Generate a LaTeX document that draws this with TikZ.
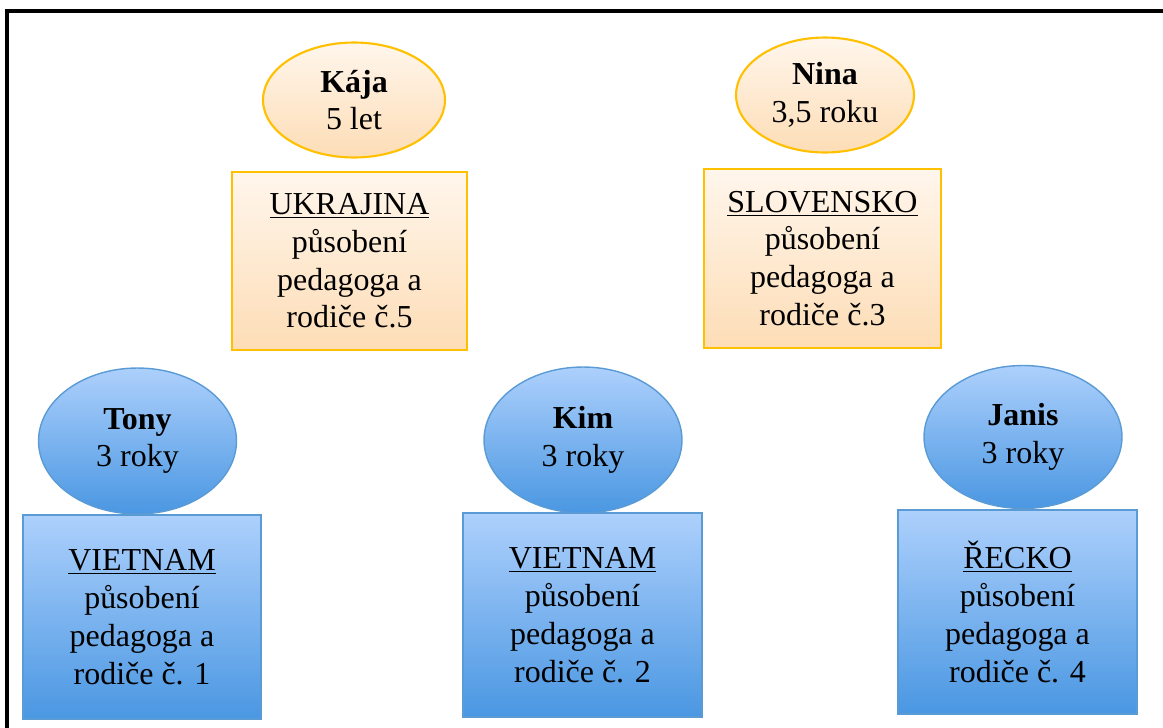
\documentclass[tikz,border=0pt]{standalone}
\usepackage{fontspec}
\setmainfont{Liberation Serif}
\usetikzlibrary{shapes.geometric}
\definecolor{zlutaokraj}{HTML}{FFC000}
\definecolor{zlutahore}{HTML}{FFF6EC}
\definecolor{zlutadole}{HTML}{FDDDB6}
\definecolor{modraokraj}{HTML}{5B9BD5}
\definecolor{modrahore}{HTML}{ADD0FC}
\definecolor{modradole}{HTML}{4A97E2}
\tikzset{
  dite/.style={ellipse, inner sep=0pt, outer sep=0pt, align=center,
    font=\fontsize{18.2}{21.5}\selectfont},
  zeme/.style={rectangle, inner sep=0pt, outer sep=0pt, align=center,
    font=\fontsize{18.2}{21.5}\selectfont},
  zluta/.style={draw=zlutaokraj, line width=1.2pt, top color=zlutahore, bottom color=zlutadole},
  modra/.style={draw=modraokraj, line width=0.8pt, top color=modrahore, bottom color=modradole}
}
\begin{document}
\begin{tikzpicture}[x=0.02cm,y=-0.02cm]
   \useasboundingbox (0,0) rectangle (1163,727);
   \clip (0,0) rectangle (1163,727);
   \draw[line width=2pt] (7,740) |- (1175,11);

   \node[dite,zluta,minimum width=3.64cm,minimum height=2.3cm] (kaja) at (354,100) {\textbf{Kája}\\5 let};
   \node[zeme,zluta,minimum width=4.7cm,minimum height=3.56cm] (kajazeme) at (349.5,261) {\underline{UKRAJINA}\\působení\\pedagoga a\\rodiče č.5};

   \node[dite,zluta,minimum width=3.56cm,minimum height=2.3cm] (nina) at (825,95) {\textbf{Nina}\\3,5 roku};
   \node[zeme,zluta,minimum width=4.74cm,minimum height=3.58cm] (ninazeme) at (822.5,258.5) {\underline{SLOVENSKO}\\působení\\pedagoga a\\rodiče č.3};

   \node[dite,modra,minimum width=3.96cm,minimum height=2.92cm] (tony) at (137.5,441) {\textbf{Tony}\\3 roky};
   \node[zeme,modra,minimum width=4.76cm,minimum height=4.08cm] (tonyzeme) at (142,617) {\underline{VIETNAM}\\působení\\pedagoga a\\rodiče č. 1};

   \node[dite,modra,minimum width=3.96cm,minimum height=2.92cm] (kim) at (583,440) {\textbf{Kim}\\3 roky};
   \node[zeme,modra,minimum width=4.78cm,minimum height=4.08cm] (kimzeme) at (582.5,615) {\underline{VIETNAM}\\působení\\pedagoga a\\rodiče č. 2};

   \node[dite,modra,minimum width=3.96cm,minimum height=2.86cm] (janis) at (1023,437) {\textbf{Janis}\\3 roky};
   \node[zeme,modra,minimum width=4.78cm,minimum height=4.08cm] (janiszeme) at (1017.5,612) {\underline{ŘECKO}\\působení\\pedagoga a\\rodiče č. 4};
\end{tikzpicture}
\end{document}
